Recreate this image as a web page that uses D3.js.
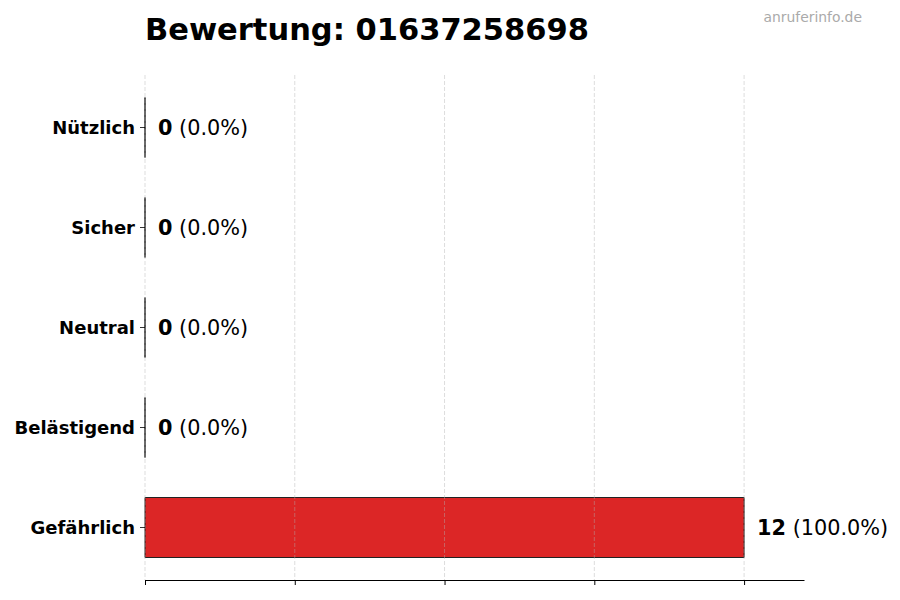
<!DOCTYPE html>
<html>
<head>
<meta charset="utf-8">
<script src="https://cdn.jsdelivr.net/npm/d3@7"></script>
<style>
body { margin: 0; background: #fff; }
text { font-family: "DejaVu Sans", sans-serif; }
</style>
</head>
<body>
<div id="chart"></div>
<script>

var categories = ["Nützlich", "Sicher", "Neutral", "Belästigend", "Gefährlich"];
var counts = [0, 0, 0, 0, 12];
var xTicks = [0, 3, 6, 9, 12];
var title = "Bewertung: 01637258698";
var watermark = "anruferinfo.de";

var width = 900, height = 600;
var plotLeft = 145, plotRight = 804, plotTop = 75, plotBottom = 580;

var total = d3.sum(counts);

var svg = d3.select("#chart")
	.append("svg")
	.attr("width", width)
	.attr("height", height);

var x = d3.scaleLinear()
	.domain([0, d3.max(counts) * 1.1])
	.range([plotLeft, plotRight]);

var y = d3.scaleBand()
	.domain(categories)
	.range([plotTop, plotBottom])
	.paddingInner(0.4)
	.paddingOuter(0.225);

// bars as paths so zero-width bars still show their edge
svg.selectAll("path.bar")
	.data(counts)
	.enter()
	.append("path")
	.attr("class", "bar")
	.attr("d", function(d, i){
		var y0 = y(categories[i]);
		var w = x(d) - x(0);
		return "M" + x(0) + "," + y0 + "h" + w + "v" + y.bandwidth() + "h" + (-w) + "Z";
	})
	.style("fill", "#dc2626")
	.style("stroke", "#222")
	.style("stroke-width", 1);

// grid on top, faint
svg.selectAll("line.grid")
	.data(xTicks)
	.enter()
	.append("line")
	.attr("class", "grid")
	.attr("x1", function(d){ return x(d); })
	.attr("x2", function(d){ return x(d); })
	.attr("y1", plotTop)
	.attr("y2", plotBottom)
	.style("stroke", "#b0b0b0")
	.style("stroke-opacity", 0.55)
	.style("stroke-dasharray", "4,2")
	.style("stroke-width", 0.8);

// bottom axis, ticks only
var xAxis = svg.append("g")
	.attr("transform", "translate(0," + plotBottom + ")")
	.call(d3.axisBottom(x).tickValues(xTicks).tickSize(5).tickSizeOuter(0).tickFormat(""));
xAxis.select(".domain").attr("stroke", "#000").attr("stroke-width", 1);
xAxis.selectAll(".tick line").attr("stroke", "#000");

// left axis, no spine
var yAxis = svg.append("g")
	.attr("transform", "translate(" + plotLeft + ",0)")
	.call(d3.axisLeft(y).tickSize(5).tickPadding(5));
yAxis.select(".domain").remove();
yAxis.selectAll(".tick line").attr("stroke", "#000").attr("stroke-width", 0.8);
yAxis.selectAll(".tick text")
	.attr("dy", "0.38em")
	.style("font-family", "DejaVu Sans")
	.style("font-size", "18px")
	.style("font-weight", "bold")
	.attr("fill", "#000");

// value labels
var labels = svg.selectAll("text.value")
	.data(counts)
	.enter()
	.append("text")
	.attr("class", "value")
	.attr("x", function(d){ return x(d) + 13; })
	.attr("y", function(d, i){ return y(categories[i]) + y.bandwidth() / 2; })
	.attr("dy", "0.36em")
	.style("font-size", "20.8px")
	.attr("fill", "#000");

labels.append("tspan")
	.style("font-weight", "bold")
	.text(function(d){ return d; });

labels.append("tspan")
	.text(function(d){ return " (" + (total ? d / total * 100 : 0).toFixed(1) + "%)"; });

svg.append("text")
	.attr("x", plotLeft)
	.attr("y", 40)
	.style("font-size", "30.5px")
	.style("font-weight", "bold")
	.attr("fill", "#000")
	.text(title);

svg.append("text")
	.attr("x", 862)
	.attr("y", 22)
	.attr("text-anchor", "end")
	.style("font-size", "13.9px")
	.attr("fill", "#aaaaaa")
	.text(watermark);

</script>
</body>
</html>
